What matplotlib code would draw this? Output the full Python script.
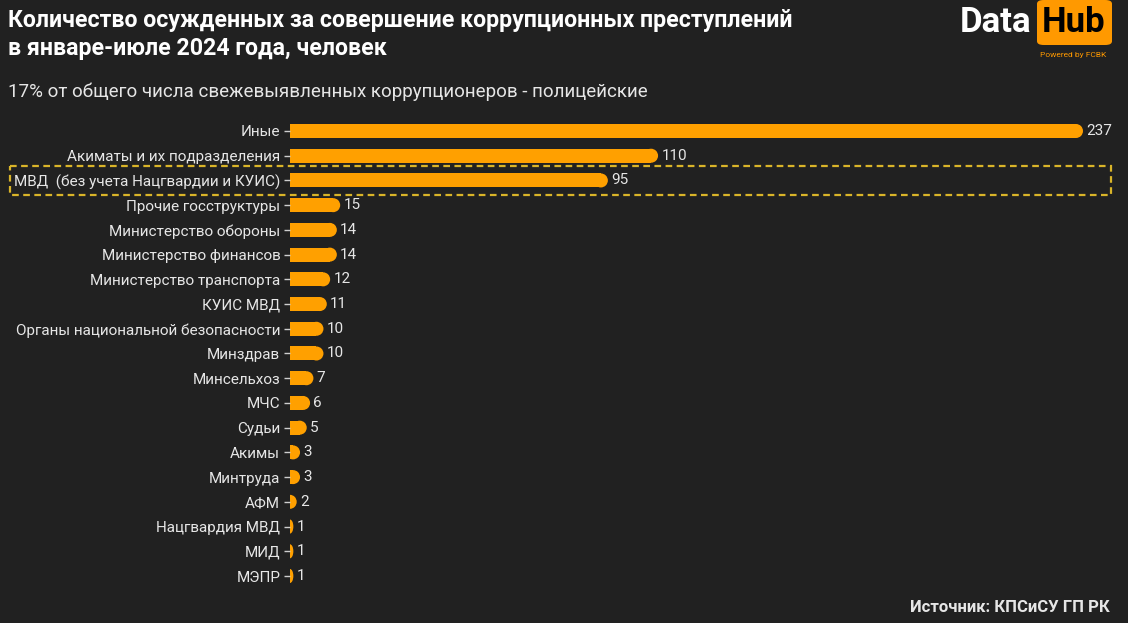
import matplotlib.pyplot as plt
from matplotlib.patches import Rectangle, Ellipse, FancyBboxPatch
from matplotlib.transforms import blended_transform_factory

plt.rcParams['font.family'] = ['Roboto', 'DejaVu Sans']

# Данные
labels = ["Иные", "Акиматы и их подразделения", "МВД  (без учета Нацгвардии и КУИС)",
          "Прочие госструктуры", "Министерство обороны", "Министерство финансов",
          "Министерство транспорта", "КУИС МВД", "Органы национальной безопасности",
          "Минздрав", "Минсельхоз", "МЧС", "Судьи", "Акимы", "Минтруда", "АФМ",
          "Нацгвардия МВД", "МИД", "МЭПР"]
values = [237, 110, 95, 15, 14, 14, 12, 11, 10, 10, 7, 6, 5, 3, 3, 2, 1, 1, 1]

bg = '#212121'
bar_color = '#FFA000'
text_color = '#E6E6E6'

fig = plt.figure(figsize=(11.28, 6.23), dpi=100, facecolor=bg)
W, H = 1128, 623

# оси: левый край у x=290px, строки от y=131 до y=576
ax = fig.add_axes([290 / W, 1 - 590 / H, (1100 - 290) / W, (590 - 118) / H])
ax.set_facecolor(bg)
row = (576 - 131) / 18
xmax = 237 * (1100 - 290) / (1083 - 290)
ax.set_xlim(0, xmax)
ax.set_ylim(18 + (590 - 576) / row, -(131 - 118) / row)

bar_h = 14 / row
px_per_unit = (1083 - 290) / 237
r = 7 / px_per_unit  # радиус скругления в единицах данных

clip = Rectangle((0, -2), xmax, 22, transform=ax.transData)
for i, v in enumerate(values):
    rr = min(r, v)  # для маленьких значений - полуэллипс от нуля
    body = v - rr
    if body > 0:
        ax.add_patch(Rectangle((0, i - bar_h / 2), body, bar_h, color=bar_color, lw=0))
    e = Ellipse((body, i), 2 * rr, bar_h, color=bar_color, lw=0)
    ax.add_patch(e)
    e.set_clip_path(clip)
    ax.text(v + 1, i, str(v), va='center', ha='left', color=text_color, fontsize=11)

ax.set_yticks(range(len(labels)))
ax.set_yticklabels(labels, fontsize=11, color=text_color)
ax.tick_params(axis='y', length=4, width=1, color='#CFCFCF', pad=3)
ax.set_xticks([])
for s in ax.spines.values():
    s.set_visible(False)

# выделение строки МВД
tr = blended_transform_factory(fig.transFigure, ax.transData)
ax.add_patch(Rectangle((10 / W, 2 - 0.57), (1111 - 10) / W, 1.14, transform=tr,
                       fill=False, ec='#D9B429', lw=1.6, ls=(0, (3, 2)), clip_on=False))

# заголовки
fig.text(8 / W, 1 - 20 / H, "Количество осужденных за совершение коррупционных преступлений",
         color='white', fontsize=16.7, fontweight='bold', va='center')
fig.text(8 / W, 1 - 48 / H, "в январе-июле 2024 года, человек",
         color='white', fontsize=16.7, fontweight='bold', va='center')
fig.text(8 / W, 1 - 92 / H, "17% от общего числа свежевыявленных коррупционеров - полицейские",
         color=text_color, fontsize=13.5, va='center')

# логотип
fig.text(1031 / W, 1 - 22 / H, "Data", color='white', fontsize=25, fontweight='bold',
         ha='right', va='center')
fig.patches.append(FancyBboxPatch((1037 / W, 1 - 45 / H), 75 / W, 45 / H,
                                  boxstyle='round,pad=0,rounding_size=0.006',
                                  transform=fig.transFigure, fc='#FF9900', ec='none'))
fig.text(1074 / W, 1 - 22 / H, "Hub", color='black', fontsize=25, fontweight='bold',
         ha='center', va='center')
fig.text(1073 / W, 1 - 55 / H, "Powered by FCBK", color='#FF9900', fontsize=6,
         ha='center', va='center')

# источник
fig.text(1110 / W, 1 - 607 / H, "Источник: КПСиСУ ГП РК", color=text_color,
         fontsize=12, fontweight='bold', ha='right', va='center')

fig.savefig('out.png', dpi=100, facecolor=bg)
